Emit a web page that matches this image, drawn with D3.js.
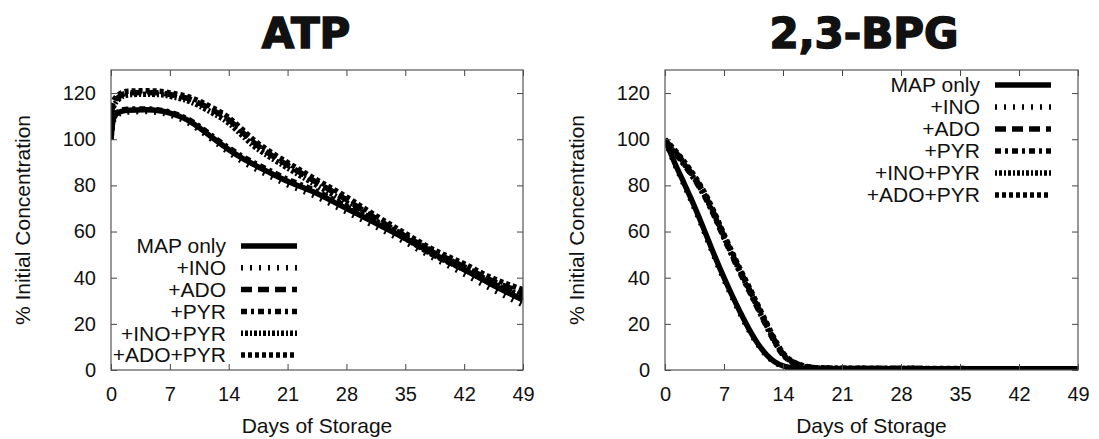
<!DOCTYPE html>
<html>
<head>
<meta charset="utf-8">
<script src="https://cdn.jsdelivr.net/npm/d3@7"></script>
<style>
  body { margin: 0; background: #fff; }
  text { font-family: "Liberation Sans", Arial, sans-serif; fill: #111; }
</style>
</head>
<body>
<div id="graph"></div>
<script>
// series names (legend order)
var seriesNames = ["MAP only", "+INO", "+ADO", "+PYR", "+INO+PYR", "+ADO+PYR"];

// ATP, % of initial
var atpDays    = [0, 0.3, 1, 2, 4, 6, 7, 9, 10.5, 12, 14, 15.5, 17, 19, 21, 24, 28, 31, 35, 38, 42, 45, 49];
var atpMap     = [100, 109, 111.8, 112.6, 112.8, 112.2, 111.3, 108.5, 105, 100.8, 95.5, 92, 89, 85.3, 81.8, 77.3, 70, 64.5, 57, 51, 43.5, 37.6, 30.3];
var atpIno     = [100, 108, 111, 111.8, 112, 111.4, 110.5, 107.5, 104, 99.8, 94.3, 90.6, 87.5, 83.8, 80.3, 75.8, 68.5, 63, 55.4, 49.3, 41.6, 35.6, 28.2];
var atpAdo     = [110, 115.5, 118.5, 120, 120.3, 120, 119.4, 117.8, 115.6, 112.8, 108.4, 103.5, 98.5, 93.3, 88.8, 82.3, 73.8, 66.8, 58, 51.6, 44.8, 39.2, 33.5];
var atpPyr     = [100, 109.5, 112.2, 113, 113.1, 112.5, 111.7, 109, 105.6, 101.5, 96.3, 92.8, 89.8, 86.2, 82.6, 78.2, 71, 65.5, 58, 52, 44.5, 38.6, 31.3];
var atpInoPyr  = [108, 114, 117.6, 119.2, 119.5, 119.3, 118.6, 116.8, 114.5, 111.5, 107, 102, 97, 92, 87.5, 81, 72.5, 65.5, 57, 50.5, 43.5, 38, 32];
var atpAdoPyr  = [111, 116.5, 119.5, 120.8, 121, 120.7, 120.1, 118.6, 116.5, 113.8, 109.4, 104.6, 99.6, 94.4, 89.9, 83.4, 75, 68, 59.2, 52.8, 46, 40.4, 34.8];

// 2,3-BPG, % of initial
var bpgDays    = [0, 0.5, 1, 2, 3, 4, 5, 6, 7, 8, 9, 10, 11, 12, 13, 14, 15, 16, 17, 18, 20, 25, 30, 35, 40, 45, 49];
var bpgMap     = [100, 95.5, 91, 83, 75, 66.5, 57.5, 48.5, 40, 32, 24.5, 17.5, 11.5, 6.8, 3.6, 1.8, 1, 0.7, 0.6, 0.5, 0.5, 0.5, 0.5, 0.5, 0.5, 0.5, 0.5];
var bpgIno     = [99.5, 95, 90.5, 82.3, 74.2, 65.7, 56.6, 47.6, 39.1, 31.2, 23.7, 16.8, 11, 6.4, 3.3, 1.6, 0.9, 0.6, 0.5, 0.5, 0.4, 0.4, 0.4, 0.4, 0.4, 0.4, 0.4];
var bpgAdo     = [100, 97.5, 95.5, 91, 86, 80.5, 74, 66.3, 58, 50, 42.3, 35, 27.5, 20, 12.8, 7, 3.8, 2.2, 1.3, 0.9, 0.7, 0.6, 0.6, 0.5, 0.5, 0.5, 0.5];
var bpgPyr     = [99, 97, 94.8, 90.2, 85.2, 79.6, 73.1, 65.4, 57.1, 49.1, 41.4, 34.1, 26.6, 19.2, 12.1, 6.5, 3.5, 2, 1.2, 0.8, 0.7, 0.6, 0.6, 0.5, 0.5, 0.5, 0.5];
var bpgInoPyr  = [99.5, 97.2, 95, 90.5, 85.5, 80, 73.5, 65.8, 57.5, 49.5, 41.8, 34.5, 27, 19.6, 12.4, 6.7, 3.6, 2.1, 1.2, 0.8, 0.7, 0.6, 0.6, 0.5, 0.5, 0.5, 0.5];
var bpgAdoPyr  = [100, 98, 96, 91.6, 86.7, 81.2, 74.8, 67.1, 58.8, 50.8, 43.1, 35.8, 28.3, 20.8, 13.4, 7.4, 4, 2.3, 1.4, 1, 0.8, 0.7, 0.6, 0.6, 0.5, 0.5, 0.5];

var dayTicks = [0, 7, 14, 21, 28, 35, 42, 49];
var pctTicks = [0, 20, 40, 60, 80, 100, 120];

// line styles, gnuplot-ish
var dashes = ["none", "2,7", "11,6", "6,4,3,4", "2,2,3,2", "4,3"];

var w = 1099, h = 439;
var vis = d3.select("#graph").append("svg").attr("width", w).attr("height", h);

function drawPanel(p) {
  var x = d3.scaleLinear().domain([0, 49]).range([p.left, p.right]);
  var y = d3.scaleLinear().domain([0, 130]).range([370, 70]);
  var g = vis.append("g");

  g.append("text").attr("x", p.titleX).attr("y", 48)
    .attr("text-anchor", "middle")
    .style("font-family", "'DejaVu Sans', sans-serif")
    .style("font-weight", "bold").style("font-size", "42px")
    .style("stroke", "#111").style("stroke-width", 1.5)
    .text(p.title);

  // clip for data lines
  g.append("clipPath").attr("id", "clip" + p.id)
    .append("rect").attr("x", p.left).attr("y", 70)
    .attr("width", p.right - p.left).attr("height", 300);

  var line = d3.line().x(d => x(d[0])).y(d => y(d[1])).curve(d3.curveMonotoneX);

  g.append("g").attr("clip-path", "url(#clip" + p.id + ")")
    .selectAll("path")
    .data(p.series)
    .enter()
    .append("path")
    .attr("d", (s) => line(p.days.map((d, i) => [d, s[i]])))
    .attr("fill", "none")
    .attr("stroke", "#000")
    .attr("stroke-width", 5.5)
    .attr("stroke-dasharray", (s, i) => dashes[i]);

  // axes, ticks pointing inward on all four sides
  var bottom = g.append("g").attr("transform", "translate(0,370)")
    .call(d3.axisBottom(x).tickValues(dayTicks).tickSizeInner(-6).tickSizeOuter(0).tickPadding(17));
  var left = g.append("g").attr("transform", "translate(" + p.left + ",0)")
    .call(d3.axisLeft(y).tickValues(pctTicks).tickSizeInner(-6).tickSizeOuter(0).tickPadding(15));
  g.append("g").attr("transform", "translate(0,70)")
    .call(d3.axisTop(x).tickValues(dayTicks).tickSizeInner(-6).tickSizeOuter(0).tickFormat(""));
  g.append("g").attr("transform", "translate(" + p.right + ",0)")
    .call(d3.axisRight(y).tickValues(pctTicks).tickSizeInner(-6).tickSizeOuter(0).tickFormat(""));
  g.selectAll(".domain").remove();
  g.selectAll(".tick line").attr("stroke", "#444");
  [bottom, left].forEach(a => a.selectAll("text")
    .style("font-family", "'Liberation Sans', Arial, sans-serif")
    .style("font-size", "20px").attr("fill", "#111"));

  g.append("rect").attr("x", p.left).attr("y", 70)
    .attr("width", p.right - p.left).attr("height", 300)
    .attr("fill", "none").attr("stroke", "#555").attr("stroke-width", 1.2);

  g.append("text").attr("x", (p.left + p.right) / 2).attr("y", 433)
    .attr("text-anchor", "middle").style("font-size", "21px")
    .text("Days of Storage");
  g.append("text")
    .attr("transform", "translate(" + p.ylabX + ",220) rotate(-90)")
    .attr("text-anchor", "middle").attr("dy", "0.35em").style("font-size", "21px")
    .text("% Initial Concentration");

  // legend
  var leg = g.selectAll(".leg").data(seriesNames).enter().append("g")
    .attr("transform", (d, i) => "translate(0," + (p.legTop + i * p.legStep) + ")");
  leg.append("text").attr("x", p.legText).attr("dy", "0.35em")
    .attr("text-anchor", "end").style("font-size", "21px").text(d => d);
  leg.append("line").attr("x1", p.legText + 15).attr("x2", p.legText + 71)
    .attr("stroke", "#000").attr("stroke-width", 5.5)
    .attr("stroke-dasharray", (d, i) => dashes[i]);
}

drawPanel({
  id: "atp", title: "ATP", titleX: 306, left: 111, right: 523, ylabX: 23,
  days: atpDays,
  series: [atpMap, atpIno, atpAdo, atpPyr, atpInoPyr, atpAdoPyr],
  legText: 226, legTop: 246, legStep: 21.8
});

drawPanel({
  id: "bpg", title: "2,3-BPG", titleX: 864, left: 665, right: 1078, ylabX: 577,
  days: bpgDays,
  series: [bpgMap, bpgIno, bpgAdo, bpgPyr, bpgInoPyr, bpgAdoPyr],
  legText: 980, legTop: 85, legStep: 22
});
</script>
</body>
</html>
